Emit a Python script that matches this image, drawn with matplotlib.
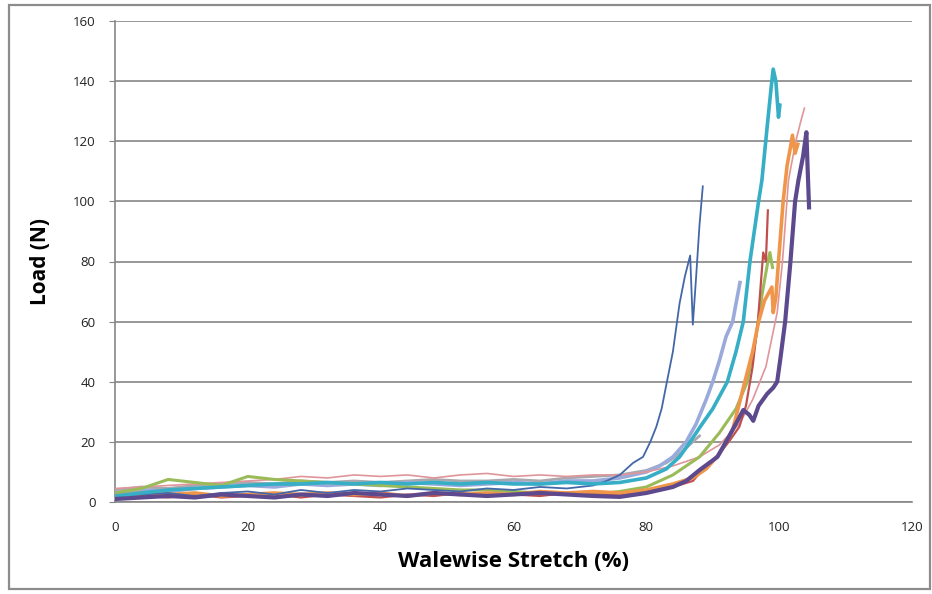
import matplotlib.pyplot as plt
from matplotlib.patches import Rectangle

plt.rcParams['font.family'] = ['Open Sans', 'DejaVu Sans']

# stretch positions shared by the flat (pre-jamming) part of every curve
FLAT_X = [0, 4, 8, 12, 16, 20, 24, 28, 32, 36, 40, 44, 48, 52, 56, 60, 64, 68, 72]

GRAY_FLAT = [4, 5, 4.5, 5.5, 6, 6.5, 6, 7, 6.5, 7, 6.5, 7, 7.5, 7, 7, 7.5, 7, 8, 8.5]
GRAY_RISE_X = [76, 80, 83, 85, 86.5, 88]
GRAY_RISE_Y = [9, 10.5, 13, 16, 19, 22]

LAVENDER_FLAT = [3, 4, 3.5, 4.5, 5, 5.5, 5, 6, 5.5, 6, 5.5, 6.5, 6, 5.5, 6, 6.5, 6, 7, 7]
LAVENDER_RISE_X = [76, 80, 82, 84, 86, 87.5, 89, 90, 91, 92, 93, 93.5, 94.1]
LAVENDER_RISE_Y = [8, 10, 12, 15, 20, 26, 34, 40, 47, 55, 60, 66, 73]

PINK_FLAT = [4.5, 5, 5.5, 6, 6.5, 7, 7.5, 8.5, 8, 9, 8.5, 9, 8, 9, 9.5, 8.5, 9, 8.5, 9]
PINK_RISE_X = [76, 80, 84, 88, 91, 94, 96, 98, 99.7, 100.5, 101.4, 102.5, 103.3, 103.8]
PINK_RISE_Y = [9, 10, 12, 15, 19, 26, 34, 45, 63, 80, 107, 120, 127, 131]

GREEN_FLAT = [3, 4.5, 7.5, 6.5, 5.5, 8.5, 7.5, 7, 6.5, 6, 5.5, 5, 4.5, 4, 4, 3.5, 3, 3, 2.5]
GREEN_RISE_X = [76, 80, 84, 88, 91, 93.5, 95.2, 96.5, 97.5, 98.3, 98.6, 99]
GREEN_RISE_Y = [3.5, 5, 9, 15, 23, 31, 40, 55, 70, 80, 83, 78]

RED_FLAT = [1, 2, 1.5, 2.5, 1.5, 2, 2.5, 1.5, 2.5, 2, 1.5, 2.5, 2, 3, 2, 2.5, 2, 3, 2.5]
RED_RISE_X = [76, 80, 84, 87, 89, 91, 92.6, 94, 95, 96, 96.8, 97.6, 98, 98.3]
RED_RISE_Y = [2.5, 3, 5, 7, 12, 16, 20.6, 25, 32, 45, 60, 83, 80, 97]

ORANGE_FLAT = [2, 3, 2.5, 3, 2, 2.5, 3, 2.5, 3, 2.5, 3, 2, 3, 2.5, 3, 2.5, 3.5, 3, 3.5]
ORANGE_RISE_X = [76, 80, 84, 87, 89, 91, 93, 94.6, 96, 96.9, 97.8, 98.9, 99.1, 99.5,
                 99.9, 100.6, 101.2, 101.7, 102, 102.4, 102.8]
ORANGE_RISE_Y = [3, 4, 6, 8, 11, 16, 24, 38, 50, 60, 67, 71.5, 63, 68,
                 80, 100, 112, 118, 122, 116, 119]

BLUE_FLAT = [2, 2.5, 3, 2, 3, 3.5, 2.5, 4, 3, 4, 3.5, 4.5, 4, 3.5, 4.5, 4, 5, 4.5, 5.5]
BLUE_RISE_X = [74, 76, 78, 79.5, 80.6, 81.5, 82.3, 83.1, 84, 85, 85.8, 86.6, 87, 87.5, 88, 88.5]
BLUE_RISE_Y = [7, 9, 13, 15, 20, 25, 31, 40, 50, 66, 75, 82, 59, 75, 92, 105]

TEAL_FLAT = [2, 3, 4, 4.5, 5, 5.5, 6, 6, 6.5, 6, 6.5, 6, 6.5, 6, 6.5, 6, 6, 6.5, 6]
TEAL_RISE_X = [76, 80, 83, 85, 86.6, 88.1, 90, 92.2, 93.5, 94.6, 95.6, 96.9, 97.4, 98.2,
               98.8, 99.1, 99.5, 99.9, 100.1]
TEAL_RISE_Y = [6.5, 8, 11, 15, 20, 25, 31, 40, 50, 60, 80, 100, 107, 125,
               138, 144, 140, 128, 132]

PURPLE_FLAT = [1, 1.5, 2, 1.5, 2.5, 2, 1.5, 2.5, 2, 3, 2.5, 2, 3, 2.5, 2, 2.5, 3, 2.5, 2]
PURPLE_RISE_X = [76, 80, 84, 86, 88, 90.7, 92.5, 94.6, 95.5, 96.1, 96.9, 98.2, 99.1, 99.7,
                 100.2, 100.9, 101.7, 102.4, 102.9, 103.6, 104.1, 104.3, 104.5]
PURPLE_RISE_Y = [1.7, 3, 5, 7, 10.6, 15, 22, 30.6, 29, 27, 32, 36, 38, 40,
                 48, 60, 80, 100, 107, 115, 123, 110, 98]

SERIES = [
    (GRAY_FLAT, GRAY_RISE_X, GRAY_RISE_Y, '#a9a9ad', 2.0),
    (LAVENDER_FLAT, LAVENDER_RISE_X, LAVENDER_RISE_Y, '#9aaadb', 2.6),
    (PINK_FLAT, PINK_RISE_X, PINK_RISE_Y, '#e0959a', 1.2),
    (GREEN_FLAT, GREEN_RISE_X, GREEN_RISE_Y, '#9bbb59', 2.2),
    (RED_FLAT, RED_RISE_X, RED_RISE_Y, '#c0504d', 1.6),
    (ORANGE_FLAT, ORANGE_RISE_X, ORANGE_RISE_Y, '#f0964a', 2.6),
    (BLUE_FLAT, BLUE_RISE_X, BLUE_RISE_Y, '#4467a8', 1.3),
    (TEAL_FLAT, TEAL_RISE_X, TEAL_RISE_Y, '#35aec6', 2.6),
    (PURPLE_FLAT, PURPLE_RISE_X, PURPLE_RISE_Y, '#5d4a8e', 3.0),
]

X_TICKS = [0, 20, 40, 60, 80, 100, 120]
Y_TICKS = [0, 20, 40, 60, 80, 100, 120, 140, 160]

fig = plt.figure(figsize=(9.32, 5.94), dpi=100)
fig.patches.append(Rectangle((9 / 932, 5 / 594), 921 / 932, 584 / 594, transform=fig.transFigure,
                             fill=False, edgecolor='#8c8c8c', linewidth=1.6))
ax = fig.add_axes([115 / 932, 92 / 594, 797 / 932, 481 / 594])

for flat_y, rise_x, rise_y, color, lw in SERIES:
    ax.plot(FLAT_X + rise_x, flat_y + rise_y, color=color, linewidth=lw, zorder=3)

ax.set_xlim(0, 120)
ax.set_ylim(0, 160)
ax.set_xticks(X_TICKS)
ax.set_yticks(Y_TICKS)
ax.grid(axis='y', color='#868686', linewidth=1.2, zorder=0)
ax.set_axisbelow(True)
for side in ['top', 'right']:
    ax.spines[side].set_visible(False)
for side in ['left', 'bottom']:
    ax.spines[side].set_color('#868686')
    ax.spines[side].set_linewidth(1.2)
ax.tick_params(axis='x', length=0, pad=14, labelsize=9.5, labelcolor='#222222')
ax.tick_params(axis='y', length=4, direction='out', color='#868686', pad=10, labelsize=9.5,
               labelcolor='#222222')

ax.set_xlabel('Walewise Stretch (%)', fontsize=16, fontweight='bold', labelpad=12)
ax.set_ylabel('Load (N)', fontsize=15, fontweight='bold', labelpad=16)

fig.savefig('out.png', dpi=100)
